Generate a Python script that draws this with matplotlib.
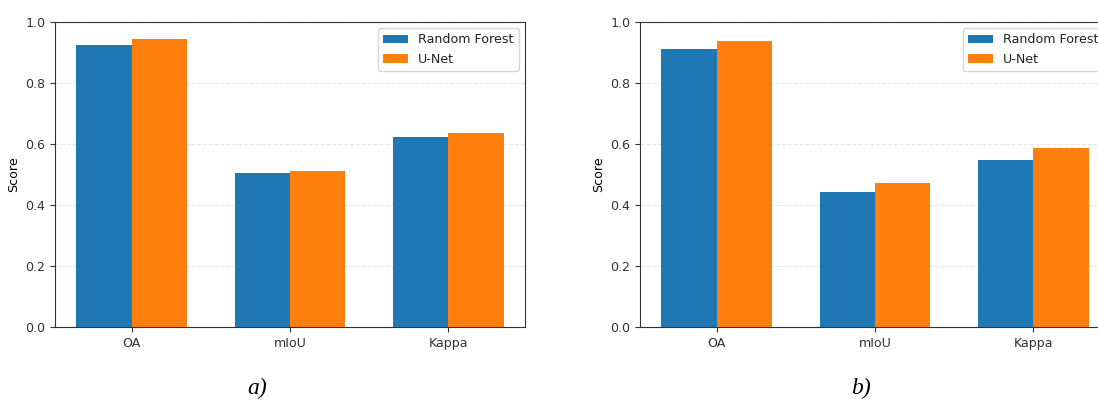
import numpy as np
import matplotlib
matplotlib.use('Agg')
import matplotlib.pyplot as plt

# metrics and scores
metrics = ['OA', 'mIoU', 'Kappa']
rf_a = [0.925, 0.504, 0.623]
unet_a = [0.944, 0.511, 0.637]
rf_b = [0.910, 0.442, 0.549]
unet_b = [0.937, 0.471, 0.586]
captions = ['a)', 'b)']

plt.rcParams['font.size'] = 9.1
plt.rcParams['axes.edgecolor'] = '#333333'
plt.rcParams['xtick.color'] = '#333333'
plt.rcParams['ytick.color'] = '#333333'
plt.rcParams['text.color'] = '#222222'

fig = plt.figure(figsize=(10.98, 4.01), dpi=100)
W, H = 1098, 401

# axes placed in pixel coordinates (right panel runs past the edge, like the reference)
ax_a = fig.add_axes([55 / W, (H - 327) / H, 470 / W, 305 / H])
ax_b = fig.add_axes([640 / W, (H - 327) / H, 470 / W, 305 / H])

x = np.arange(len(metrics))
width = 0.35

for ax, rf, unet in [(ax_a, rf_a, unet_a), (ax_b, rf_b, unet_b)]:
    ax.bar(x - width / 2, rf, width, label='Random Forest', color='#1f77b4')
    ax.bar(x + width / 2, unet, width, label='U-Net', color='#ff7f0e')
    ax.set_xticks(x)
    ax.set_xticklabels(metrics)
    ax.set_ylim(0, 1.0)
    ax.set_yticks([0.0, 0.2, 0.4, 0.6, 0.8, 1.0])
    ax.set_ylabel('Score')
    ax.set_axisbelow(True)
    ax.grid(axis='y', linestyle='--', alpha=0.3)
    ax.legend(loc='upper right')

# panel captions
fig.text(257 / W, 1 - 388 / H, captions[0], ha='center', va='center',
         fontsize=17, style='italic', family='Liberation Serif', color='black')
fig.text(861 / W, 1 - 388 / H, captions[1], ha='center', va='center',
         fontsize=17, style='italic', family='Liberation Serif', color='black')

fig.savefig('out.png', dpi=100)
